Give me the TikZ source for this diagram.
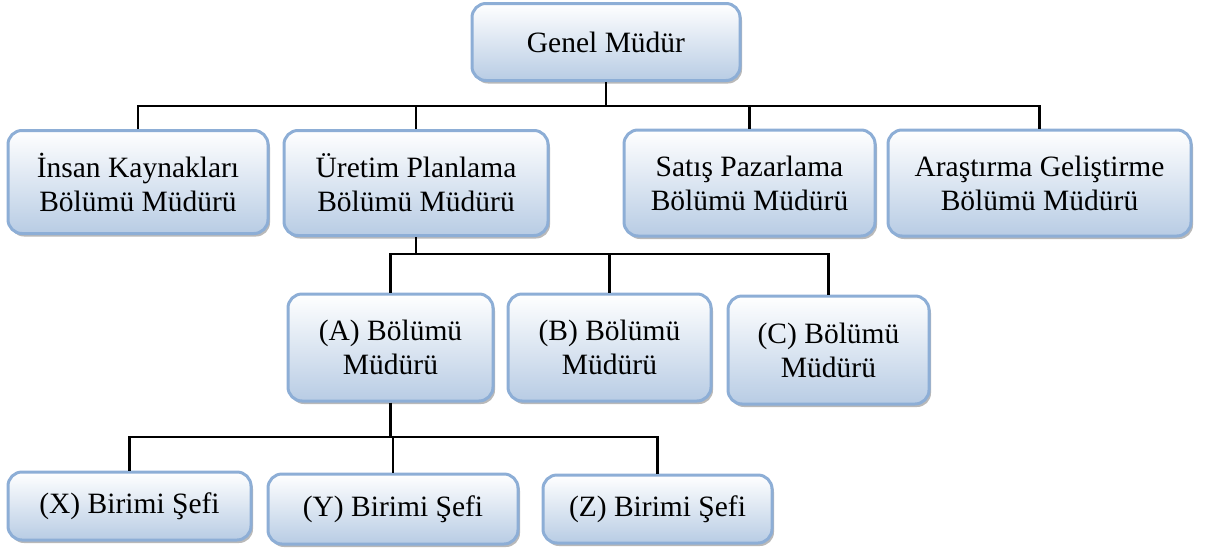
\documentclass[tikz,border=0pt]{standalone}
\usepackage{fontspec}
\setmainfont{Liberation Serif}
\usetikzlibrary{shadows}

\definecolor{boxline}{RGB}{141,174,214}
\definecolor{boxfill}{RGB}{184,204,228}

\begin{document}
\begin{tikzpicture}[x=1pt,y=-1pt,line width=2.4pt,
        box/.style={draw=boxline,line width=3pt,rounded corners=14pt,
          top color=white,bottom color=boxfill,align=center,inner sep=0pt,
          font=\fontsize{29.5}{34}\selectfont,
          drop shadow={shadow xshift=2pt,shadow yshift=-3pt,fill=black!55}}]
        \useasboundingbox (0,0) rectangle (1205,552);

        % ust kademe
        \node[box,minimum width=268pt,minimum height=77pt] (genel) at (606,42) {Genel Müdür};

        % bolum mudurleri
        \node[box,minimum width=260pt,minimum height=103pt] (insan) at (138,182) {İnsan Kaynakları\\Bölümü Müdürü};
        \node[box,minimum width=264pt,minimum height=105pt] (uretim) at (416,183) {Üretim Planlama\\Bölümü Müdürü};
        \node[box,minimum width=251pt,minimum height=106pt] (satis) at (749.5,183) {Satış Pazarlama\\Bölümü Müdürü};
        \node[box,minimum width=303pt,minimum height=106pt] (arge) at (1039.5,183) {Araştırma Geliştirme\\Bölümü Müdürü};

        \node[box,minimum width=205pt,minimum height=107pt] (bolA) at (390.5,347.5) {(A) Bölümü\\Müdürü};
        \node[box,minimum width=203pt,minimum height=107pt] (bolB) at (609.5,347.5) {(B) Bölümü\\Müdürü};
        \node[box,minimum width=201pt,minimum height=108pt] (bolC) at (828.5,350) {(C) Bölümü\\Müdürü};

        % birim sefleri
        \node[box,minimum width=243pt,minimum height=68pt] (sefX) at (129.5,506) {(X) Birimi Şefi};
        \node[box,minimum width=250pt,minimum height=70pt] (sefY) at (393,509) {(Y) Birimi Şefi};
        \node[box,minimum width=229pt,minimum height=68pt] (sefZ) at (657.5,509) {(Z) Birimi Şefi};

        \coordinate (bus1) at (606,106);
        \coordinate (bus2) at (416,254);
        \coordinate (bus3) at (390.5,437);

        \draw (genel.south) -- (bus1);
        \draw (insan.north) |- (bus1) -| (arge.north);
        \draw (uretim.north) -- (uretim.north |- bus1);
        \draw (satis.north) -- (satis.north |- bus1);

        \draw (uretim.south) -- (bus2);
        \draw (bolA.north) |- (bus2) -| (bolC.north);
        \draw (bolB.north) -- (bolB.north |- bus2);

        \draw (bolA.south) -- (bus3);
        \draw (sefX.north) |- (bus3) -| (sefZ.north);
        \draw (sefY.north) -- (sefY.north |- bus3);
\end{tikzpicture}
\end{document}
